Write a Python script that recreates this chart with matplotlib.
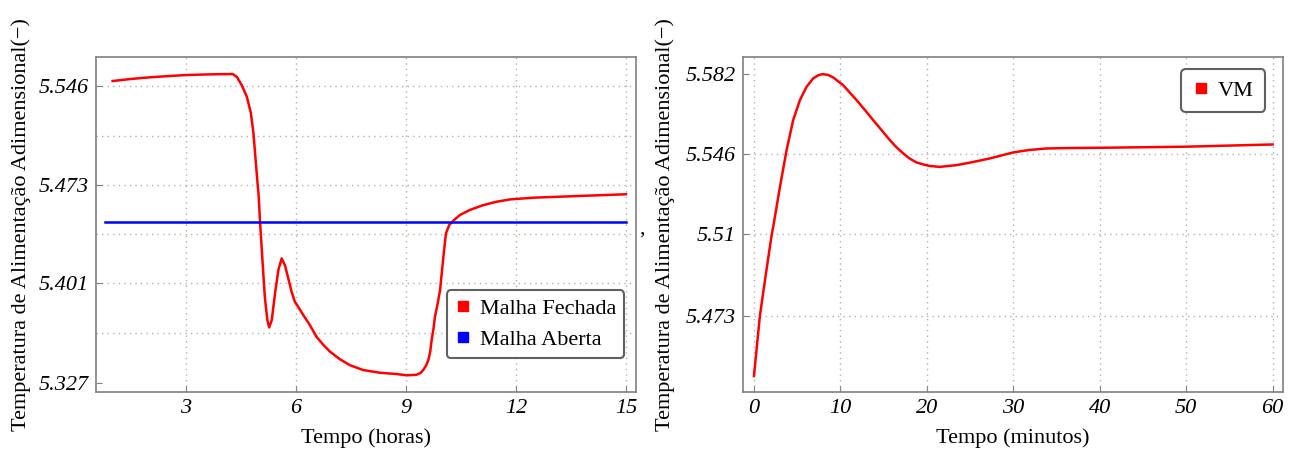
import numpy as np
import matplotlib
matplotlib.use("Agg")
import matplotlib.pyplot as plt
from matplotlib.lines import Line2D

plt.rcParams['font.family'] = ['Liberation Serif', 'DejaVu Serif']

# Feed temperature, closed loop vs open loop (hours)
t_horas = [1.0, 1.5, 2.0, 2.5, 3.0, 3.5, 4.0, 4.28, 4.39, 4.52, 4.66, 4.77,
           4.84, 4.90, 4.96, 4.98, 5.02, 5.08, 5.15, 5.22, 5.27, 5.34, 5.43,
           5.52, 5.61, 5.70, 5.79, 5.88, 5.97, 6.06, 6.20, 6.38, 6.56, 6.75,
           6.93, 7.20, 7.47, 7.83, 8.29, 8.75, 9.02, 9.29, 9.40, 9.47, 9.55,
           9.61, 9.66, 9.70, 9.75, 9.79, 9.86, 9.93, 10.02, 10.09, 10.18,
           10.29, 10.47, 10.74, 11.11, 11.47, 11.84, 12.5, 13.3, 14.0, 15.0]
malha_fechada = [5.5497, 5.5512, 5.5524, 5.5533, 5.5541, 5.5545, 5.5548, 5.5548,
                 5.5526, 5.5467, 5.5381, 5.5261, 5.5113, 5.4914, 5.4717, 5.4660,
                 5.4459, 5.4201, 5.3906, 5.3734, 5.3680, 5.3734, 5.3933, 5.4103,
                 5.4189, 5.4138, 5.4042, 5.3943, 5.3869, 5.3832, 5.3771, 5.3697,
                 5.3611, 5.3550, 5.3501, 5.3445, 5.3402, 5.3366, 5.3346, 5.3336,
                 5.3327, 5.3331, 5.3345, 5.3366, 5.3400, 5.3440, 5.3500, 5.3587,
                 5.3670, 5.3759, 5.3850, 5.3956, 5.4201, 5.4374, 5.4435, 5.4467,
                 5.4509, 5.4546, 5.4582, 5.4607, 5.4624, 5.4637, 5.4645, 5.4652,
                 5.4662]
t_aberta = [0.8, 15.0]
malha_aberta = [5.4459, 5.4459]

# Feed temperature response (minutes)
t_minutos = [0.0, 0.69, 1.39, 2.05, 2.23, 3.01, 3.78, 4.54, 5.32, 6.09, 6.86,
             7.40, 7.94, 8.60, 9.17, 10.32, 11.87, 12.8, 13.79, 14.8, 15.72,
             16.5, 17.26, 18.0, 18.81, 19.6, 20.35, 21.50, 23.43, 24.97, 27.28,
             29.98, 31.8, 33.84, 36.5, 39.92, 50.02, 60.0]
vm = [5.4460, 5.4731, 5.4922, 5.5095, 5.5132, 5.5312, 5.5478, 5.5613, 5.5703,
      5.5763, 5.5801, 5.5814, 5.5820, 5.5816, 5.5805, 5.5770, 5.5703, 5.5660,
      5.5613, 5.5566, 5.5523, 5.5490, 5.5463, 5.5440, 5.5422, 5.5413, 5.5406,
      5.5402, 5.5410, 5.5421, 5.5440, 5.5467, 5.5478, 5.5485, 5.5487, 5.5488,
      5.5493, 5.5503]

yticks_h = [5.327, 5.401, 5.473, 5.546]
yticks_m = [5.473, 5.51, 5.546, 5.582]
xticks_h = [3, 6, 9, 12, 15]
xticks_m = [0, 10, 20, 30, 40, 50, 60]

ylabel = 'Temperatura de Alimentação Adimensional(−)'
FS = 16
frame_c = '#808080'
grid_c = '#b0b0b0'

fig = plt.figure(figsize=(12.93, 4.59), dpi=100)
ax1 = fig.add_axes([0.0742, 0.146, 0.4176, 0.7298])
ax2 = fig.add_axes([0.5746, 0.146, 0.4176, 0.7298])


def style(ax, xticks, yticks, xlabel):
    ax.set_xticks(xticks)
    ax.set_yticks(yticks)
    ax.set_xticklabels([str(v) for v in xticks], fontstyle='italic', fontsize=FS)
    ax.set_yticklabels([('%g' % v) for v in yticks], fontstyle='italic', fontsize=FS)
    mids = [(a + b) / 2 for a, b in zip(yticks[:-1], yticks[1:])]
    ax.set_yticks(mids, minor=True)
    ax.tick_params(which='major', direction='in', length=4, color=frame_c,
                   pad=5, top=False, right=False)
    ax.tick_params(which='minor', length=0)
    for s in ax.spines.values():
        s.set_color(frame_c)
        s.set_linewidth(1.2)
    ax.grid(True, which='major', color=grid_c, linestyle=(0, (1, 3)), linewidth=1)
    ax.grid(True, which='minor', axis='y', color=grid_c, linestyle=(0, (1, 3)), linewidth=1)
    ax.set_xlabel(xlabel, fontsize=FS)
    ax.xaxis.set_label_coords(0.5, -0.137)
    ax.xaxis.label.set_va('center')
    ax.set_ylabel(ylabel, fontsize=FS)
    ax.yaxis.label.set_va('center')


def legend_box(leg):
    leg.get_frame().set_edgecolor('#606060')
    leg.get_frame().set_linewidth(1.5)


# Closed vs open loop
ax1.plot(t_horas, malha_fechada, color='#ff0000', lw=1.8, zorder=3)
ax1.plot(t_aberta, malha_aberta, color='#0000ff', lw=1.8, zorder=3)
ax1.set_xlim(0.545, 15.27)
ax1.set_ylim(5.3204, 5.5674)
style(ax1, xticks_h, yticks_h, 'Tempo (horas)')
ax1.yaxis.set_label_coords(-0.139, 0.5)
ax1.yaxis.get_major_ticks()[0].gridline.set_visible(False)

h1 = [Line2D([], [], color='#ff0000', marker='s', ls='none', markersize=7),
      Line2D([], [], color='#0000ff', marker='s', ls='none', markersize=7)]
leg1 = ax1.legend(h1, ['Malha Fechada', 'Malha Aberta'], loc='lower right',
                  bbox_to_anchor=(0.978, 0.1015), borderaxespad=0, fontsize=FS,
                  handlelength=0.8, handletextpad=0.35, labelspacing=0.5,
                  borderpad=0.35, fancybox=True, framealpha=1)
legend_box(leg1)

# Response in minutes
ax2.plot(t_minutos, vm, color='#ff0000', lw=1.8, zorder=3)
ax2.set_xlim(-1.27, 61.2)
ax2.set_ylim(5.4388, 5.5897)
style(ax2, xticks_m, yticks_m, 'Tempo (minutos)')
ax2.yaxis.set_label_coords(-0.144, 0.5)
ax2.set_yticks([], minor=True)
ax2.yaxis.get_major_ticks()[-1].gridline.set_visible(False)

h2 = [Line2D([], [], color='#ff0000', marker='s', ls='none', markersize=7)]
leg2 = ax2.legend(h2, ['VM'], loc='upper right', bbox_to_anchor=(0.967, 0.964),
                  borderaxespad=0, fontsize=FS, handlelength=0.8,
                  handletextpad=0.35, borderpad=0.5, fancybox=True, framealpha=1)
legend_box(leg2)

fig.text(642 / 1293, 1 - 229 / 459, ',', fontsize=FS, ha='center', va='center')

fig.savefig('out.png', dpi=100)
